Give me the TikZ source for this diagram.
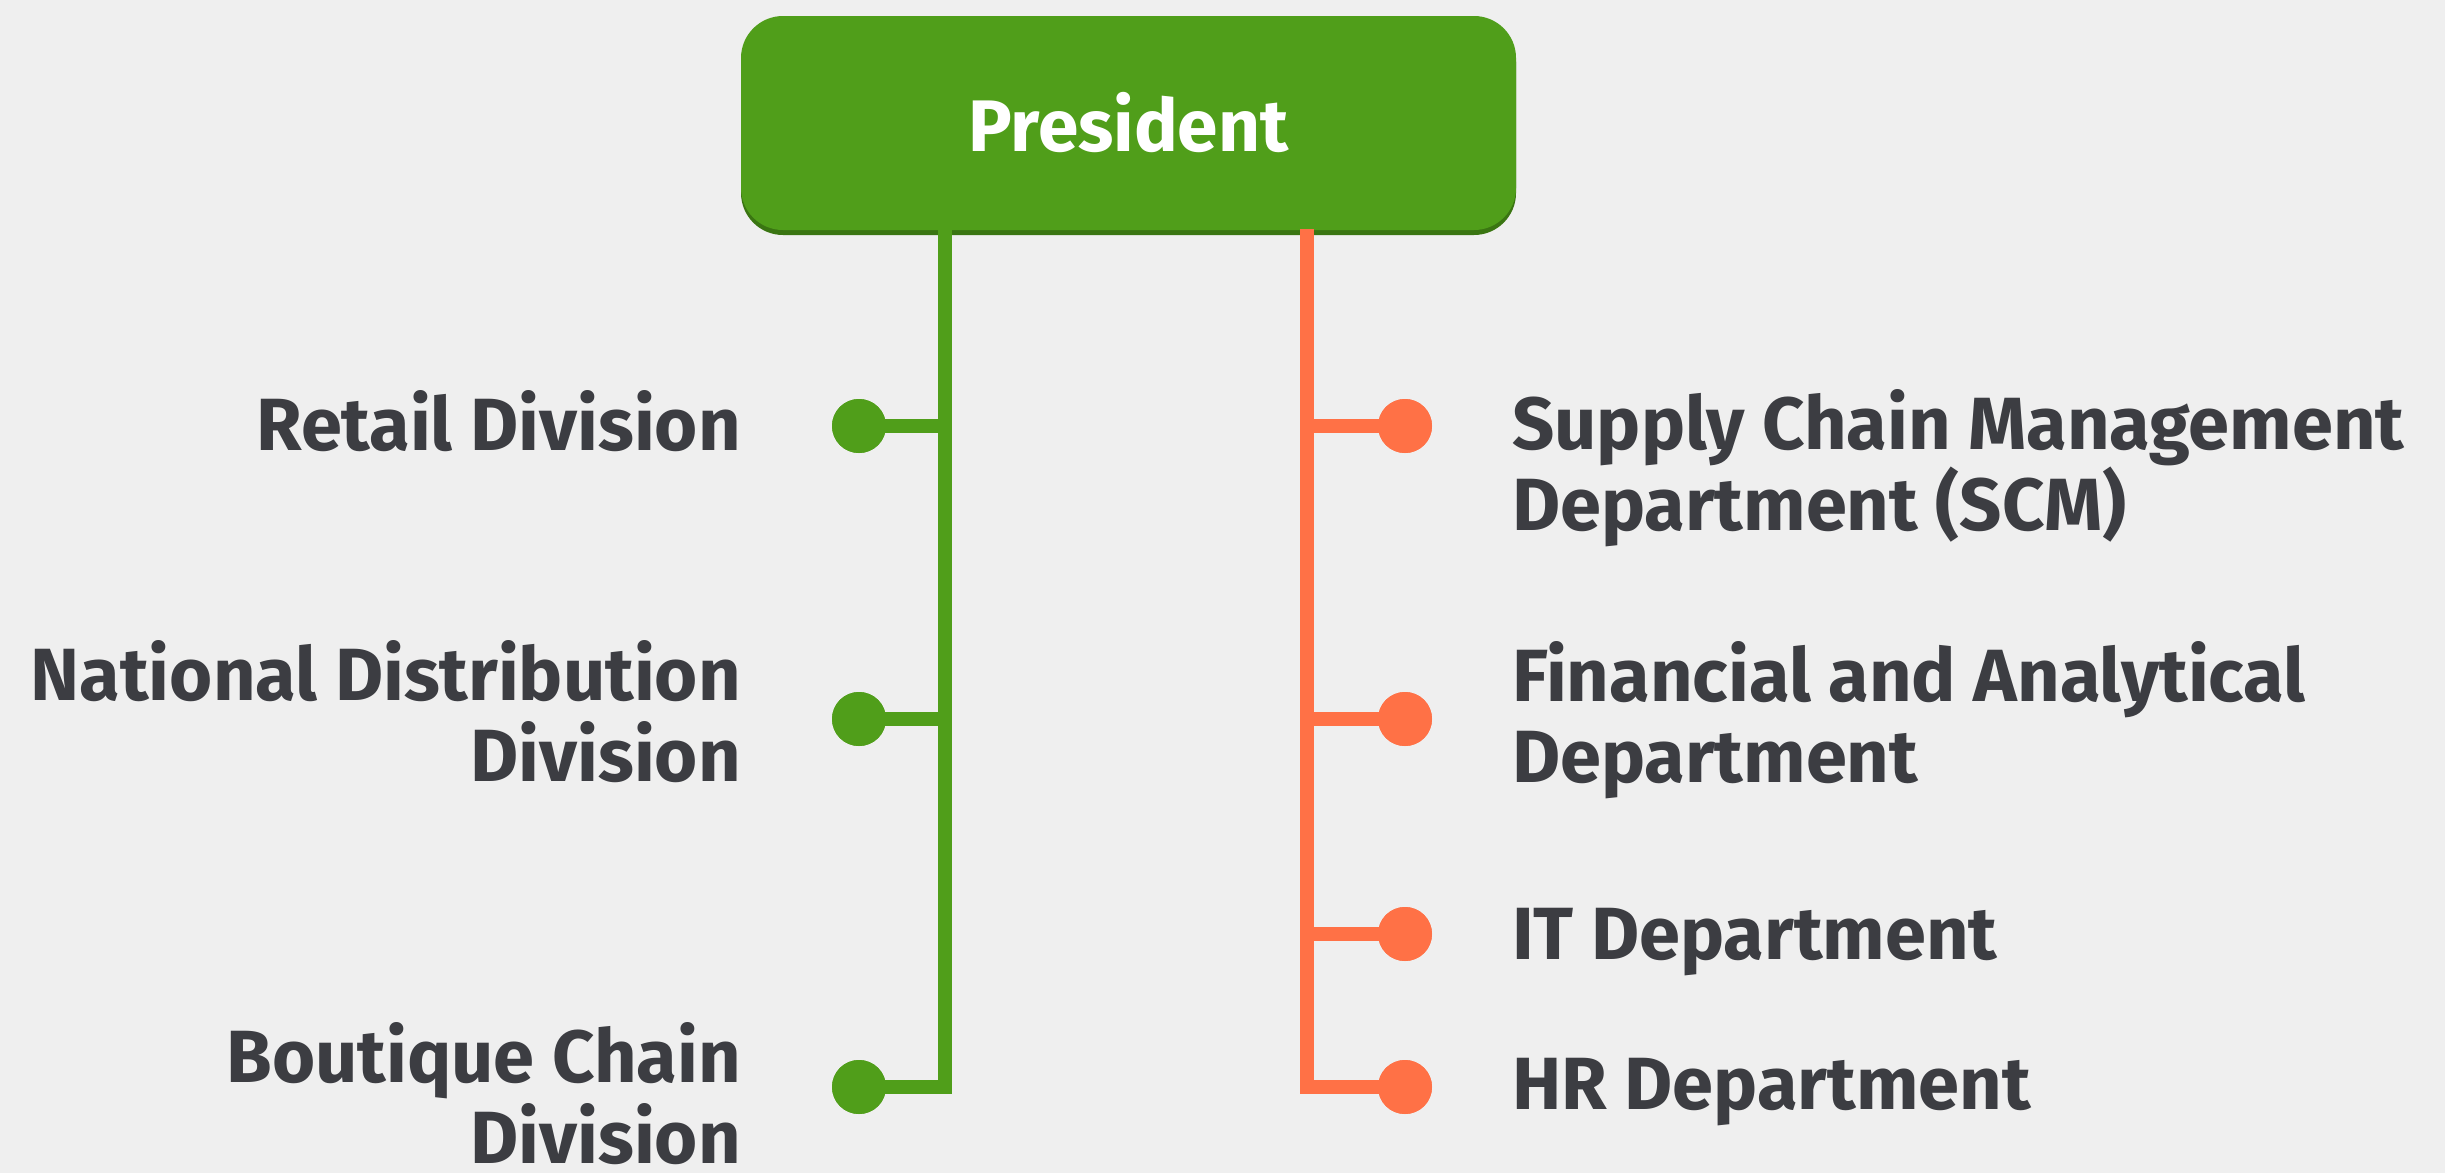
\documentclass[tikz,border=0pt]{standalone}
\usepackage{fontspec}
\setmainfont{Fira Sans}
\definecolor{bgc}{HTML}{EFEFEF}
\definecolor{leafgreen}{HTML}{509E1A}
\definecolor{leafshadow}{HTML}{3A7512}
\definecolor{coral}{HTML}{FF7146}
\definecolor{ink}{HTML}{3C3D42}
\begin{document}
\begin{tikzpicture}[x=1pt,y=-1pt,
  lbl/.style={inner sep=0pt, text=ink, font=\fontsize{74}{81}\selectfont\bfseries},
  lleft/.style={lbl, anchor=east, align=right},
  lright/.style={lbl, anchor=west, align=left},
  gdot/.style={circle, fill=leafgreen, minimum size=54pt, inner sep=0pt},
  odot/.style={circle, fill=coral, minimum size=54pt, inner sep=0pt},
  gline/.style={draw=leafgreen, line width=13.5pt, line join=miter},
  oline/.style={draw=coral, line width=13.5pt, line join=miter}]
\fill[bgc] (0,0) rectangle (2445,1173);
\useasboundingbox (0,0) rectangle (2445,1173);

% President box with a darker lower edge
\fill[leafshadow, rounded corners=42pt] (741,20) rectangle (1516,235);
\node[fill=leafgreen, rounded corners=42pt, minimum width=775pt, minimum height=214pt,
      inner sep=0pt, text=white, font=\fontsize{73}{80}\selectfont\bfseries]
      (pres) at (1128.5,123) {President};

\coordinate (gtop) at (945,229);
\coordinate (otop) at (1307,229);

% green branch
\node[gdot] (g1) at (859,426) {};
\node[gdot] (g2) at (859,719) {};
\node[gdot] (g3) at (859,1087) {};
\draw[gline] (gtop) |- (g3.center);
\draw[gline] (g1.center) -- (g1 -| gtop);
\draw[gline] (g2.center) -- (g2 -| gtop);
\node[gdot] at (g1) {};
\node[gdot] at (g2) {};
\node[gdot] at (g3) {};

% coral branch
\node[odot] (o1) at (1405,426) {};
\node[odot] (o2) at (1405,719) {};
\node[odot] (o3) at (1405,934) {};
\node[odot] (o4) at (1405,1087) {};
\draw[oline] (otop) |- (o4.center);
\draw[oline] (o1.center) -- (o1 -| otop);
\draw[oline] (o2.center) -- (o2 -| otop);
\draw[oline] (o3.center) -- (o3 -| otop);
\node[odot] at (o1) {};
\node[odot] at (o2) {};
\node[odot] at (o3) {};
\node[odot] at (o4) {};

% labels
\node[lleft] (t1) at (741,421) {Retail Division};
\node[lleft] (t2) at (741,712) {National Distribution\\Division};
\node[lleft] (t3) at (741,1094) {Boutique Chain\\Division};
\node[lright] (t4) at (1512,468) {Supply Chain Management\\Department (SCM)};
\node[lright] (t5) at (1512,720) {Financial and Analytical\\Department};
\node[lright] (t6) at (1512,942) {IT Department};
\node[lright] (t7) at (1512,1092) {HR Department};
\end{tikzpicture}
\end{document}
